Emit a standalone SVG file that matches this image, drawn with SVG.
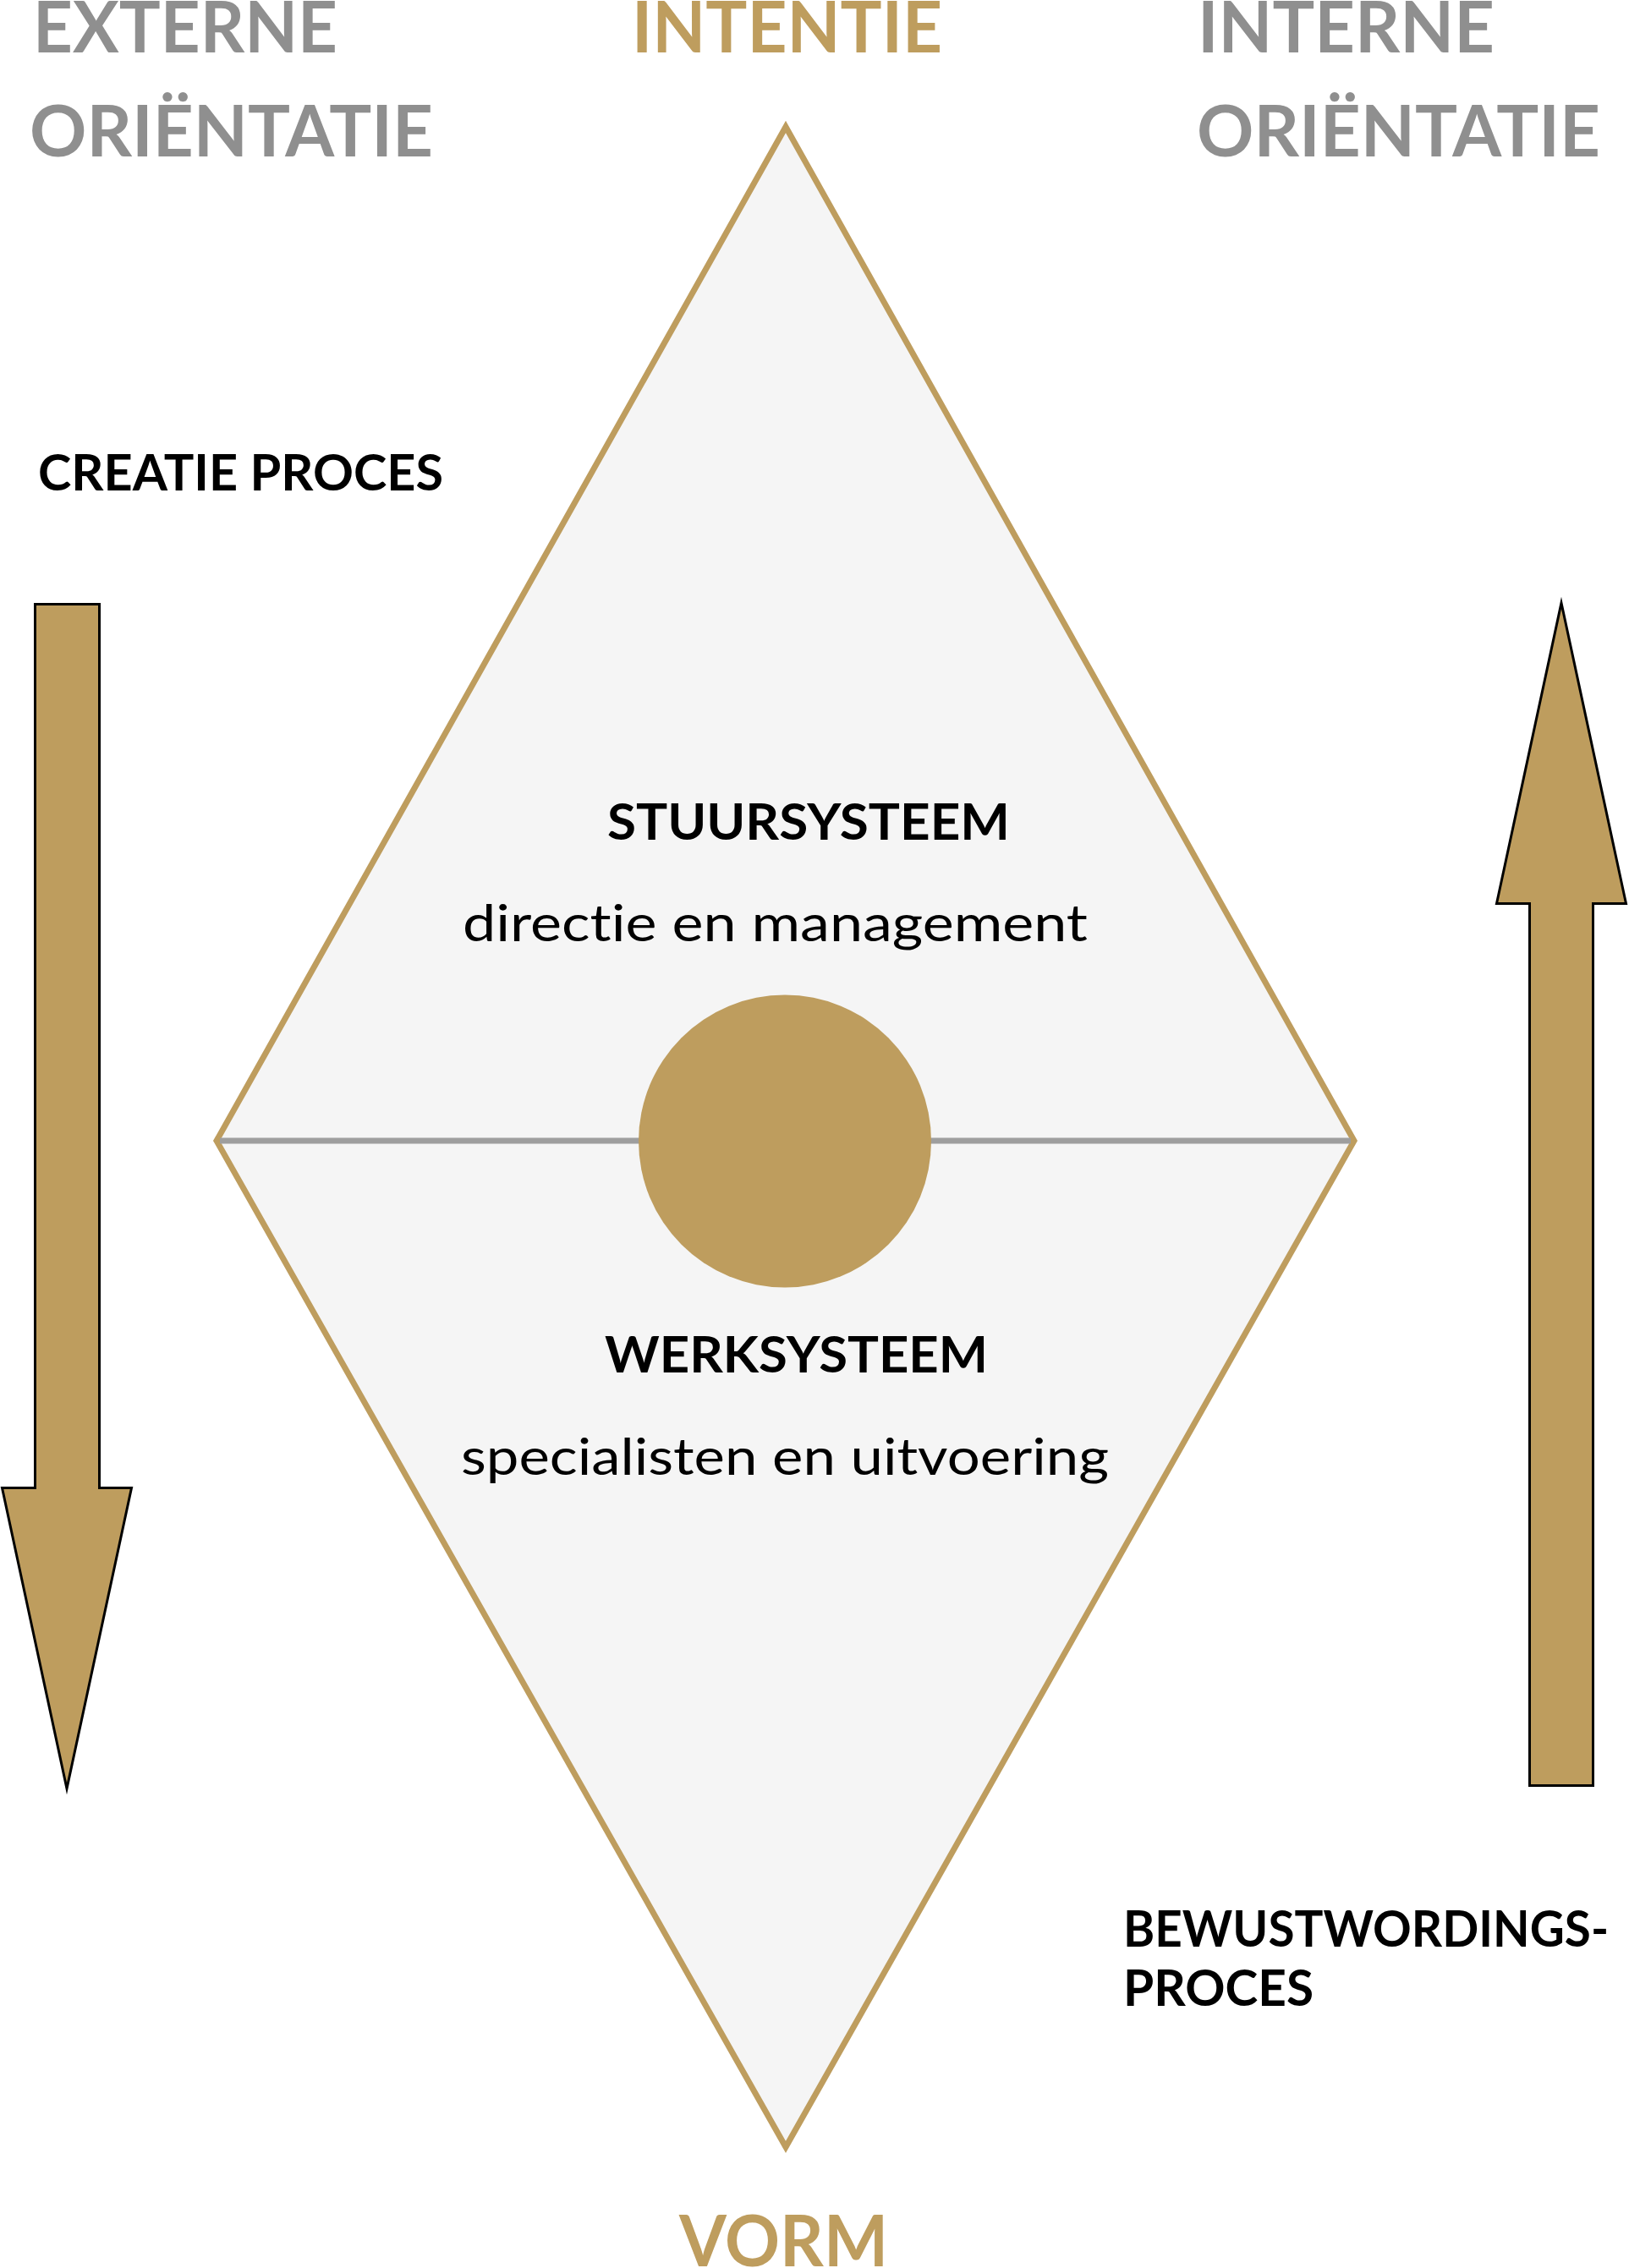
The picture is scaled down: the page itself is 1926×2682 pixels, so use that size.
<svg xmlns="http://www.w3.org/2000/svg" width="1926" height="2682" viewBox="0 0 1926 2682">
  <style>
    .t { font-family: Lato, "Open Sans", "Liberation Sans", sans-serif; font-variant-ligatures: none; font-feature-settings: "liga" 0, "clig" 0; }
    .big { font-size: 84px; font-weight: 700; }
    .gray { fill: #8f8f8f; }
    .gold { fill: #be9d5e; }
    .lbl { font-size: 60px; font-weight: 700; fill: #000; }
    .sub { font-size: 60px; font-weight: 400; fill: #000; }
    .arrow { fill: #be9d5e; stroke: #000; stroke-width: 3; stroke-linejoin: miter; stroke-miterlimit: 20; }
  </style>
  <rect x="0" y="0" width="1926" height="2682" fill="#ffffff"/>

  <g id="diamond">
    <polygon points="929,150 1601,1349 929,2539 256,1349" fill="#f5f5f5" stroke="#be9d5e" stroke-width="7" stroke-miterlimit="20"/>
  </g>
  <g id="connectors">
    <line x1="260" y1="1349" x2="1597" y2="1349" stroke="#9e9e9e" stroke-width="7"/>
  </g>
  <g id="core">
    <circle cx="928" cy="1349.5" r="173" fill="#be9d5e"/>
  </g>

  <g id="headers">
    <text class="t big gray" x="39" y="62" textLength="360" lengthAdjust="spacingAndGlyphs">EXTERNE</text>
    <text class="t big gray" x="35" y="185" textLength="477" lengthAdjust="spacingAndGlyphs">ORIËNTATIE</text>
    <text class="t big gold" x="747" y="62" textLength="367" lengthAdjust="spacingAndGlyphs">INTENTIE</text>
    <text class="t big gray" x="1416" y="62" textLength="351" lengthAdjust="spacingAndGlyphs">INTERNE</text>
    <text class="t big gray" x="1415" y="185" textLength="477" lengthAdjust="spacingAndGlyphs">ORIËNTATIE</text>
    <text class="t big gold" x="803" y="2680" textLength="247" lengthAdjust="spacingAndGlyphs">VORM</text>
  </g>

  <g id="stuursysteem">
    <text class="t lbl" x="718" y="993" font-size="64" textLength="476" lengthAdjust="spacingAndGlyphs">STUURSYSTEEM</text>
    <text class="t sub" x="547" y="1113" textLength="739" lengthAdjust="spacingAndGlyphs">directie en management</text>
  </g>

  <g id="werksysteem">
    <text class="t lbl" x="715" y="1623" font-size="64" textLength="453" lengthAdjust="spacingAndGlyphs">WERKSYSTEEM</text>
    <text class="t sub" x="545" y="1744" textLength="766" lengthAdjust="spacingAndGlyphs">specialisten en uitvoering</text>
  </g>

  <g id="creatie-proces">
    <text class="t lbl" x="45" y="580" textLength="479" lengthAdjust="spacingAndGlyphs">CREATIE PROCES</text>
    <polygon class="arrow" points="41.5,714.5 117.5,714.5 117.5,1759.5 155.5,1759.5 79,2115 2.5,1759.5 41.5,1759.5"/>
  </g>

  <g id="bewustwordings-proces">
    <polygon class="arrow" points="1846,713 1922.5,1068.5 1883.5,1068.5 1883.5,2111.5 1808.5,2111.5 1808.5,1068.5 1769.5,1068.5"/>
    <text class="t lbl" x="1328" y="2302" font-size="57" textLength="574" lengthAdjust="spacingAndGlyphs">BEWUSTWORDINGS-</text>
    <text class="t lbl" x="1328" y="2372" font-size="57" textLength="225" lengthAdjust="spacingAndGlyphs">PROCES</text>
  </g>
</svg>
